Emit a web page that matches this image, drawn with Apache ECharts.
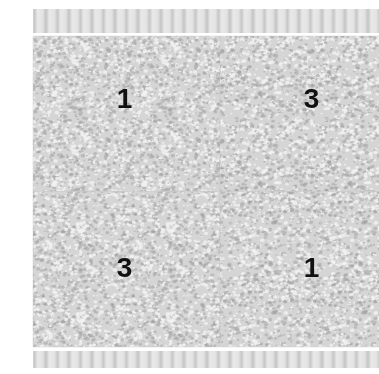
<!DOCTYPE html>
<html>
<head>
<meta charset="utf-8">
<script src="https://cdn.jsdelivr.net/npm/echarts@6/dist/echarts.min.js"></script>
<style>
  html, body { margin: 0; padding: 0; background: #fff; }
  #chart { width: 379px; height: 374px; }
</style>
</head>
<body>
<div id="chart"></div>
<script>
// quadrants of the micrograph: [column, row, label]
const columns = ['left', 'right'];
const rows = ['top', 'bottom'];
const quadrantLabels = [[0, 0, 1], [1, 0, 3], [0, 1, 3], [1, 1, 1]];
const bandNames = ['top', 'bottom'];

// speckled texture, tiled 3x3 before blurring so the edges wrap cleanly
function speckle(seed) {
  const size = 90;
  const raw = document.createElement('canvas');
  raw.width = raw.height = size;
  const ctx = raw.getContext('2d');
  ctx.fillStyle = '#d5d5d5';
  ctx.fillRect(0, 0, size, size);
  let s = seed;
  const next = () => { s = (s * 16807) % 2147483647; return s / 2147483647; };
  for (let i = 0; i < 800; i++) {
    const x = next() * size, y = next() * size, r = 0.8 + next() * 1.5;
    const dark = next() < 0.5;
    ctx.fillStyle = dark ? 'rgba(160,160,160,0.5)' : 'rgba(243,243,243,0.8)';
    for (const dx of [-size, 0, size]) {
      for (const dy of [-size, 0, size]) {
        ctx.beginPath();
        ctx.ellipse(x + dx, y + dy, r, r * 0.8, 0, 0, Math.PI * 2);
        ctx.fill();
      }
    }
  }
  const tiled = document.createElement('canvas');
  tiled.width = tiled.height = size * 3;
  const t = tiled.getContext('2d');
  for (let i = 0; i < 3; i++) for (let j = 0; j < 3; j++) t.drawImage(raw, i * size, j * size);
  const big = document.createElement('canvas');
  big.width = big.height = size * 3;
  const b = big.getContext('2d');
  b.filter = 'blur(0.65px)';
  b.drawImage(tiled, 0, 0);
  const out = document.createElement('canvas');
  out.width = out.height = size;
  out.getContext('2d').drawImage(big, size, size, size, size, 0, 0, size, size);
  return out;
}

// vertical stripes of the top / bottom strips
function stripes() {
  const w = 23, h = 30;
  const c = document.createElement('canvas');
  c.width = w; c.height = h;
  const ctx = c.getContext('2d');
  const g = ctx.createLinearGradient(0, 0, w, 0);
  g.addColorStop(0, '#c4c4c4');
  g.addColorStop(0.14, '#e8e8e8');
  g.addColorStop(0.36, '#e4e4e4');
  g.addColorStop(0.5, '#c8c8c8');
  g.addColorStop(0.64, '#e9e9e9');
  g.addColorStop(0.86, '#e2e2e2');
  g.addColorStop(1, '#c4c4c4');
  ctx.fillStyle = g;
  ctx.fillRect(0, 0, w, h);
  return c;
}

const textures = [speckle(11), speckle(4271), speckle(90817), speckle(555)];
const stripeTex = stripes();

const chart = echarts.init(document.getElementById('chart'));

chart.setOption({
  animation: false,
  grid: [
    { left: 33, top: 36, width: 374, height: 311, outerBoundsMode: 'none' },
    { left: 33, top: 9, width: 374, height: 24, outerBoundsMode: 'none' },
    { left: 33, top: 351, width: 374, height: 17, outerBoundsMode: 'none' }
  ],
  xAxis: [
    { gridIndex: 0, type: 'category', data: columns, show: false },
    { gridIndex: 1, type: 'value', min: 0, max: 1, show: false },
    { gridIndex: 2, type: 'value', min: 0, max: 1, show: false }
  ],
  yAxis: [
    { gridIndex: 0, type: 'category', data: rows, inverse: true, show: false },
    { gridIndex: 1, type: 'value', min: 0, max: 1, show: false },
    { gridIndex: 2, type: 'value', min: 0, max: 1, show: false }
  ],
  series: [
    {
      type: 'custom',
      xAxisIndex: 0,
      yAxisIndex: 0,
      data: quadrantLabels,
      renderItem: function (params, api) {
        const c = api.coord([api.value(0), api.value(1)]);
        const sz = api.size([1, 1]);
        const lift = api.value(1) === 0 ? -13 : 0;
        return {
          type: 'group',
          children: [
            {
              type: 'rect',
              shape: { x: c[0] - sz[0] / 2, y: c[1] - sz[1] / 2, width: sz[0], height: sz[1] },
              style: {
                fill: { image: textures[params.dataIndex], repeat: 'repeat' },
                stroke: 'rgba(190,190,190,0.35)',
                lineWidth: 1
              }
            },
            {
              type: 'text',
              style: {
                text: String(api.value(2)),
                x: c[0] - 2,
                y: c[1] + lift,
                align: 'center',
                verticalAlign: 'middle',
                font: 'bold 28px "Liberation Sans", sans-serif',
                fill: '#111'
              }
            }
          ]
        };
      }
    }
  ].concat(bandNames.map((name, i) => ({
    type: 'custom',
    name: name,
    xAxisIndex: i + 1,
    yAxisIndex: i + 1,
    data: [[0, 0]],
    renderItem: function (params) {
      const cs = params.coordSys;
      return {
        type: 'rect',
        shape: { x: cs.x, y: cs.y, width: cs.width, height: cs.height },
        style: { fill: { image: stripeTex, repeat: 'repeat' } }
      };
    }
  })))
});
</script>
</body>
</html>
